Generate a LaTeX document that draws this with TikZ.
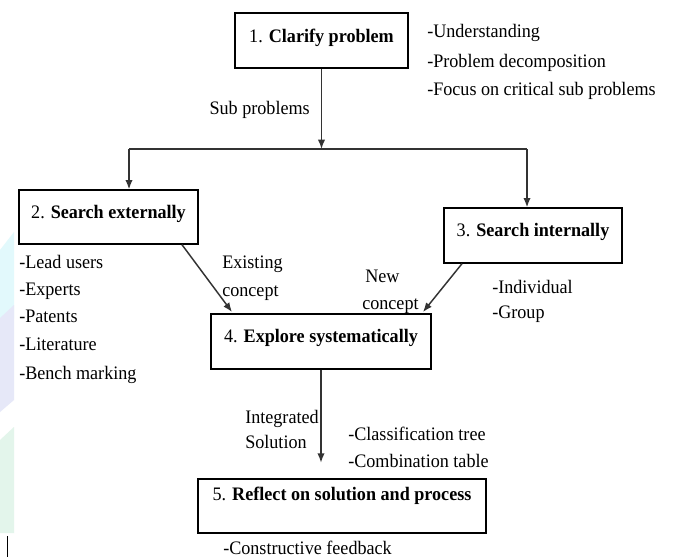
\documentclass[tikz,border=0pt]{standalone}
\usepackage{fontspec}
\setmainfont{Liberation Serif}[FakeStretch=0.95]
\usetikzlibrary{arrows.meta,calc}
\definecolor{lnc}{HTML}{333333}
\definecolor{stripA}{HTML}{E2F9FC}
\definecolor{stripB}{HTML}{E6E8F8}
\definecolor{stripC}{HTML}{E3F5EB}
\tikzset{
  procbox/.style={draw=black, line width=1pt, rectangle, inner xsep=0pt, inner ysep=0pt, align=center},
  lbl/.style={inner sep=0pt, anchor=base west},
  lble/.style={inner sep=0pt, anchor=base east},
  conn/.style={draw=lnc, line width=1.1pt, -{Latex[length=7pt,width=5.5pt]}},
  plain/.style={draw=lnc, line width=1.1pt}
}
\begin{document}
\begin{tikzpicture}[x=0.75pt,y=-0.75pt,font=\fontsize{14.3pt}{21pt}\selectfont]
\useasboundingbox (0,0) rectangle (674,557);
\fill[white] (0,0) rectangle (674,557);
% faint background strips at the left edge
\fill[stripA] (0,250) -- (14,232) -- (14,318) -- (0,330) -- cycle;
\fill[stripB] (0,318) -- (14,305) -- (14,400) -- (0,412) -- cycle;
\fill[stripC] (0,440) -- (14,427) -- (14,533) -- (0,533) -- cycle;
\draw[black, line width=0.8pt] (7.5,536) -- (7.5,557);

% boxes
\node[procbox, minimum width=129.75pt, text height=21.75pt, text depth=19.5pt] (b1) at (321.5,40.5) {1. \textbf{Clarify problem}};
\node[procbox, minimum width=134.25pt, text height=21pt, text depth=19.5pt] (b2) at (108.5,217) {2. \textbf{Search externally}};
\node[procbox, minimum width=133.5pt, text height=21pt, text depth=20.25pt] (b3) at (533,235.5) {3. \textbf{Search internally}};
\node[procbox, minimum width=165pt, text height=21pt, text depth=20.25pt] (b4) at (321,341.5) {4. \textbf{Explore systematically}};
\node[procbox, minimum width=216pt, text height=15.75pt, text depth=24.75pt] (b5) at (342,506) {5. \textbf{Reflect on solution and process}};

% connectors
\coordinate (split) at (321.5,149);
\coordinate (lc) at (129,149);
\coordinate (rc) at (527,149);
\draw[conn] (b1.south) -- (split);
\draw[plain] (lc) -- (rc);
\draw[conn] (lc) -- (lc |- b2.north);
\draw[conn] (rc) -- (rc |- b3.north);
\draw[conn] ([xshift=55.1pt]b2.south) -- ([xshift=-66.75pt,yshift=1pt]b4.north);
\draw[conn] ([xshift=-53.25pt]b3.south) -- ([xshift=76.5pt,yshift=1pt]b4.north);
\draw[conn] (b4.south) -- ++(0,93);

% labels
\node[lbl] (u1) at (427,37.5) {-Understanding};
\node[lbl] (u2) at (427,67) {-Problem decomposition};
\node[lbl] (u3) at (427,95.5) {-Focus on critical sub problems};
\node[lble] (sp) at (310,114) {Sub problems};

\node[lbl] (e1) at (19,268) {-Lead users};
\node[lbl] (e2) at (19,295) {-Experts};
\node[lbl] (e3) at (19,322) {-Patents};
\node[lbl] (e4) at (19,350) {-Literature};
\node[lbl] (e5) at (19,379) {-Bench marking};

\node[lbl] (ex1) at (222,268) {Existing};
\node[lbl] (ex2) at (222,296) {concept};
\node[lbl] (nw1) at (365,282) {New};
\node[lbl] (nw2) at (362,309) {concept};

\node[lbl] (i1) at (492,293) {-Individual};
\node[lbl] (i2) at (492,318) {-Group};

\node[lbl] (is1) at (245,423) {Integrated};
\node[lbl] (is2) at (245,448) {Solution};
\node[lbl] (c1) at (348,440) {-Classification tree};
\node[lbl] (c2) at (348,467) {-Combination table};

\node[lbl] (cf) at (223,554) {-Constructive feedback};
\end{tikzpicture}
\end{document}
